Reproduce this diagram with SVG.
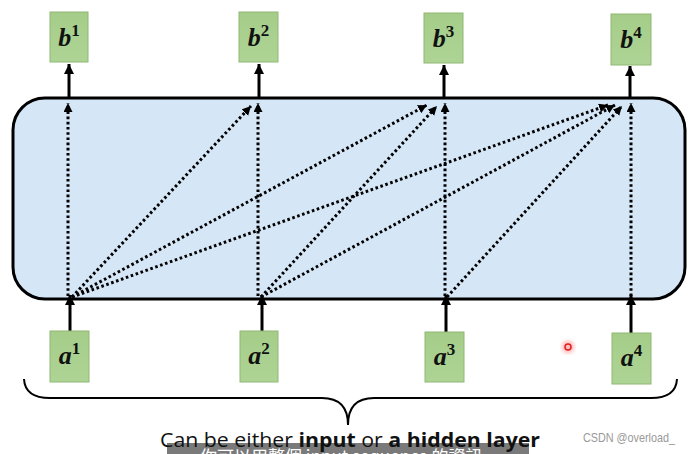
<svg xmlns="http://www.w3.org/2000/svg" width="691" height="454" viewBox="0 0 691 454">
<style>
.node rect{fill:url(#g);stroke:#8fb874;stroke-width:1}
.lbl{font-family:"Liberation Serif",serif;fill:#111;text-anchor:middle}
.m{font-weight:bold;font-style:italic;font-size:26px}
.s{font-weight:bold;font-size:17px}
.solid{stroke:#000;stroke-width:3;fill:none;marker-end:url(#ah)}
.dot{stroke:#000;stroke-width:3;fill:none;stroke-dasharray:2.6 2.6;marker-end:url(#dh)}
</style>
<defs>
<linearGradient id="g" x1="0" y1="0" x2="0" y2="1">
<stop offset="0" stop-color="#a5cd89"/>
<stop offset="1" stop-color="#aed495"/>
</linearGradient>
<marker id="ah" markerUnits="userSpaceOnUse" markerWidth="12" markerHeight="12" refX="10" refY="5" orient="auto">
<path d="M0,0 L10,5 L0,10 Z" fill="#000"/>
</marker>
<marker id="dh" markerUnits="userSpaceOnUse" markerWidth="12" markerHeight="12" refX="9" refY="4.5" orient="auto">
<path d="M0,0 L9,4.5 L0,9 Z" fill="#000"/>
</marker>
<filter id="blur"><feGaussianBlur stdDeviation="2"/></filter>
</defs>
<rect id="layer" x="13" y="98" width="672" height="201" rx="32" fill="#d5e6f6" stroke="#000" stroke-width="3"/>
<g id="connectors">
<line class="solid" x1="69" y1="97" x2="69" y2="64"/>
<line class="solid" x1="259" y1="97" x2="259" y2="64"/>
<line class="solid" x1="444" y1="97" x2="444" y2="65"/>
<line class="solid" x1="630" y1="97" x2="630" y2="66"/>
<line class="solid" x1="70" y1="331" x2="70" y2="295"/>
<line class="solid" x1="262" y1="331" x2="262" y2="295"/>
<line class="solid" x1="446" y1="332" x2="446" y2="295"/>
<line class="solid" x1="631" y1="333" x2="631" y2="295"/>
<line class="dot" x1="68" y1="296" x2="68" y2="103"/>
<line class="dot" x1="72" y1="297" x2="251" y2="106"/>
<line class="dot" x1="72" y1="297" x2="427" y2="105"/>
<line class="dot" x1="72" y1="297" x2="608" y2="105"/>
<line class="dot" x1="258" y1="296" x2="258" y2="103"/>
<line class="dot" x1="261" y1="297" x2="437" y2="106"/>
<line class="dot" x1="261" y1="297" x2="615" y2="105"/>
<line class="dot" x1="445" y1="296" x2="445" y2="103"/>
<line class="dot" x1="447" y1="297" x2="622" y2="106"/>
<line class="dot" x1="631" y1="296" x2="631" y2="103"/>
</g>
<g id="b1" class="node"><rect x="50" y="12" width="38" height="50"/><text class="lbl" x="69" y="46"><tspan class="m">b</tspan><tspan class="s" dy="-10">1</tspan></text></g>
<g id="b2" class="node"><rect x="239" y="12" width="39" height="50"/><text class="lbl" x="258.5" y="46"><tspan class="m">b</tspan><tspan class="s" dy="-10">2</tspan></text></g>
<g id="b3" class="node"><rect x="424" y="13" width="39" height="50"/><text class="lbl" x="443.5" y="47"><tspan class="m">b</tspan><tspan class="s" dy="-10">3</tspan></text></g>
<g id="b4" class="node"><rect x="611" y="14" width="40" height="51"/><text class="lbl" x="631" y="48"><tspan class="m">b</tspan><tspan class="s" dy="-10">4</tspan></text></g>
<g id="a1" class="node"><rect x="50" y="331" width="39" height="51"/><text class="lbl" x="69.5" y="364"><tspan class="m">a</tspan><tspan class="s" dy="-10">1</tspan></text></g>
<g id="a2" class="node"><rect x="240" y="331" width="38" height="51"/><text class="lbl" x="259" y="364"><tspan class="m">a</tspan><tspan class="s" dy="-10">2</tspan></text></g>
<g id="a3" class="node"><rect x="425" y="332" width="39" height="50"/><text class="lbl" x="444.5" y="365"><tspan class="m">a</tspan><tspan class="s" dy="-10">3</tspan></text></g>
<g id="a4" class="node"><rect x="612" y="333" width="39" height="51"/><text class="lbl" x="631.5" y="366"><tspan class="m">a</tspan><tspan class="s" dy="-10">4</tspan></text></g>
<path id="brace" d="M24,379 Q25,398 50,398 L322,398 Q348,398 348,425 Q348,398 374,398 L651,398 Q676,398 677,379" fill="none" stroke="#000" stroke-width="2"/>
<g id="pointer"><circle cx="568" cy="347" r="6" fill="#ff6060" opacity="0.5" filter="url(#blur)"/><circle cx="568" cy="347" r="3" fill="#ffc0c0" stroke="#e02020" stroke-width="1.5"/></g>
<rect x="167" y="443" width="362" height="11" fill="#7a7a7a"/>
<text x="200" y="463" font-family="'Noto Sans CJK TC',sans-serif" font-size="17" fill="#fff">你可以用整個 input sequence 的資訊</text>
<text x="160" y="447" font-family="'Open Sans',sans-serif" font-size="20" fill="#111" textLength="380" lengthAdjust="spacingAndGlyphs">Can be either <tspan font-weight="bold">input</tspan> or <tspan font-weight="bold">a hidden layer</tspan></text>
<text x="583" y="442" font-family="'Liberation Sans',sans-serif" font-size="13" fill="#999" textLength="92" lengthAdjust="spacingAndGlyphs">CSDN @overload_</text>
</svg>
